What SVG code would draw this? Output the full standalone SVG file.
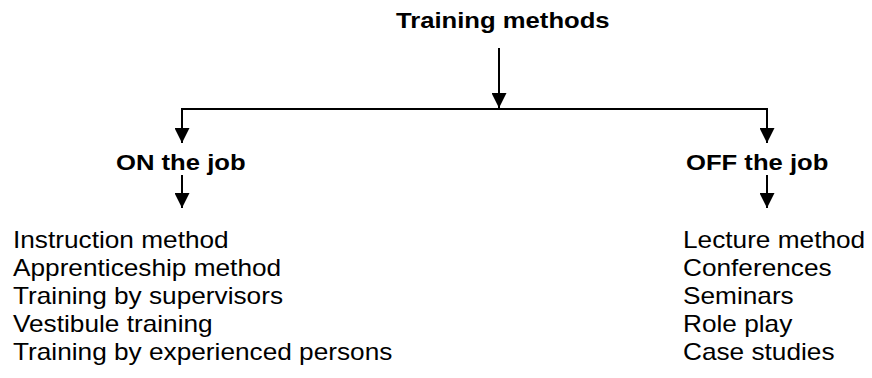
<svg xmlns="http://www.w3.org/2000/svg" width="872" height="378" viewBox="0 0 872 378">
<style>
.t{font-family:"Liberation Sans",Arial,sans-serif;fill:#000}
.b{font-weight:bold;font-size:22.5px}
.r{font-size:23px}
.ln{stroke:#000;stroke-width:2;fill:none}
</style>
<defs>
<marker id="ah" markerWidth="15" markerHeight="15" viewBox="0 0 15 15" refX="15" refY="7.5" orient="auto" markerUnits="userSpaceOnUse">
<path d="M0,0 L15,7.5 L0,15 Z" fill="#000"/>
</marker>
</defs>
<rect width="872" height="378" fill="#fff"/>
<g id="connectors">
<line class="ln" x1="499" y1="48" x2="499" y2="108" marker-end="url(#ah)"/>
<line class="ln" x1="181" y1="109" x2="768" y2="109"/>
<line class="ln" x1="182" y1="109" x2="182" y2="143" marker-end="url(#ah)"/>
<line class="ln" x1="767" y1="109" x2="767" y2="143" marker-end="url(#ah)"/>
<line class="ln" x1="182" y1="175" x2="182" y2="208" marker-end="url(#ah)"/>
<line class="ln" x1="767" y1="175" x2="767" y2="208" marker-end="url(#ah)"/>
</g>
<g id="root"><text class="t b" transform="translate(396,28) scale(1.14,1)">Training methods</text></g>
<g id="on"><text class="t b" transform="translate(116,170) scale(1.14,1)">ON the job</text></g>
<g id="off"><text class="t b" transform="translate(686,170) scale(1.14,1)">OFF the job</text></g>
<g id="on-list">
<text class="t r" transform="translate(13,248) scale(1.14,1)">Instruction method</text>
<text class="t r" transform="translate(13,276) scale(1.14,1)">Apprenticeship method</text>
<text class="t r" transform="translate(13,304) scale(1.14,1)">Training by supervisors</text>
<text class="t r" transform="translate(13,332) scale(1.14,1)">Vestibule training</text>
<text class="t r" transform="translate(13,360) scale(1.14,1)">Training by experienced persons</text>
</g>
<g id="off-list">
<text class="t r" transform="translate(683,248) scale(1.14,1)">Lecture method</text>
<text class="t r" transform="translate(683,276) scale(1.14,1)">Conferences</text>
<text class="t r" transform="translate(683,304) scale(1.14,1)">Seminars</text>
<text class="t r" transform="translate(683,332) scale(1.14,1)">Role play</text>
<text class="t r" transform="translate(683,360) scale(1.14,1)">Case studies</text>
</g>
</svg>
